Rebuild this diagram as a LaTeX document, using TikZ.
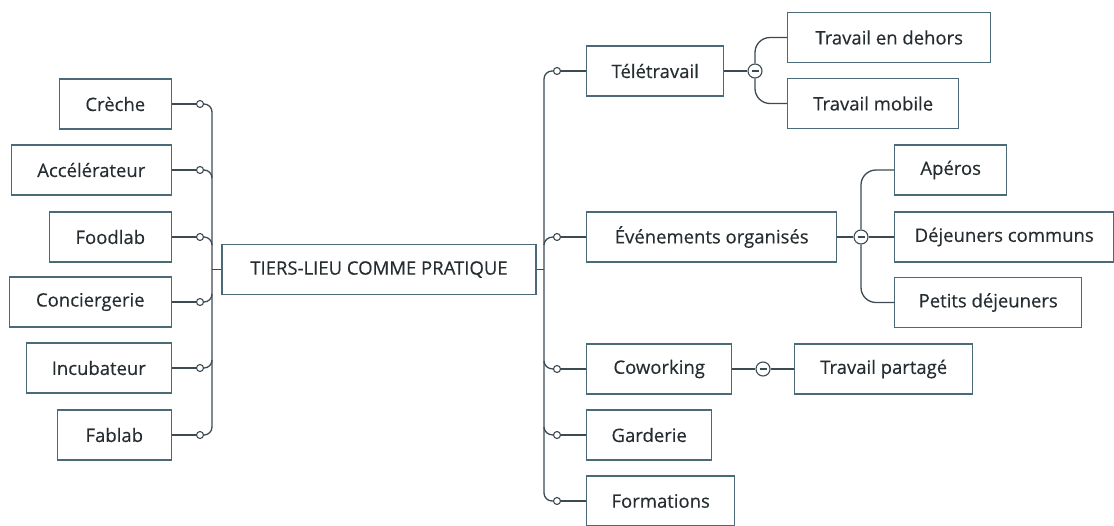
\documentclass[tikz,border=0pt]{standalone}
\usepackage{fontspec}
\setmainfont{Open Sans}[FakeBold=0.3]
\definecolor{boxc}{HTML}{4A6A78}
\definecolor{linec}{HTML}{3C4A52}
\definecolor{txtc}{HTML}{262D31}
\tikzset{
  topic/.style={draw=boxc, line width=1.4pt, fill=white, minimum height=50pt,
    inner sep=0pt, text=txtc, font=\fontsize{18.5}{21}\selectfont},
  knob/.style={circle, draw=linec, line width=1.1pt, fill=white,
    minimum size=7pt, inner sep=0pt},
  minus/.style={circle, draw=linec, line width=1.1pt, fill=white,
    minimum size=14pt, inner sep=0pt,
    path picture={\draw[linec, line width=1.1pt]
      ([xshift=3.5pt]path picture bounding box.west) --
      ([xshift=-3.5pt]path picture bounding box.east);}},
  link/.style={draw=linec, line width=1.3pt},
}
\begin{document}
\begin{tikzpicture}[x=1pt, y=-1pt]
   \useasboundingbox (0,0) rectangle (1114,525);
   % centre
   \node[topic, minimum width=314pt] (centre) at (379,269.5) {TIERS-LIEU COMME PRATIQUE};
   \coordinate (lbus) at (212,269.5);
   \coordinate (rbus) at (544,269.5);
   % left side
   \node[topic, minimum width=112pt, anchor=east] (creche) at (172,104) {Crèche};
   \node[topic, minimum width=160pt, anchor=east] (accel) at (172,170) {Accélérateur};
   \node[topic, minimum width=122pt, anchor=east] (food) at (172,237) {Foodlab};
   \node[topic, minimum width=162pt, anchor=east] (concierge) at (172,302) {Conciergerie};
   \node[topic, minimum width=145pt, anchor=east] (incub) at (172,368) {Incubateur};
   \node[topic, minimum width=114pt, anchor=east] (fab) at (172,435) {Fablab};
   \node[knob] (l1) at (200,104) {};
   \node[knob] (l2) at (200,170) {};
   \node[knob] (l3) at (200,237) {};
   \node[knob] (l4) at (200,302) {};
   \node[knob] (l5) at (200,368) {};
   \node[knob] (l6) at (200,435) {};
   \draw[link] (creche) -- (l1);
   \draw[link] (accel) -- (l2);
   \draw[link] (food) -- (l3);
   \draw[link] (concierge) -- (l4);
   \draw[link] (incub) -- (l5);
   \draw[link] (fab) -- (l6);
   \draw[link, rounded corners=8pt] (l1.east) -| (lbus |- l6.east) -- (l6.east);
   \draw[link] (l2.east) to[out=0, in=90] ([yshift=-8pt]lbus |- l2.east);
   \draw[link] (l3.east) to[out=0, in=90] ([yshift=-8pt]lbus |- l3.east);
   \draw[link] (l4.east) to[out=0, in=-90] ([yshift=8pt]lbus |- l4.east);
   \draw[link] (l5.east) to[out=0, in=-90] ([yshift=8pt]lbus |- l5.east);
   \draw[link] (centre) -- (lbus);
   % right side
   \node[topic, minimum width=137pt, anchor=west] (tele) at (586,71) {Télétravail};
   \node[topic, minimum width=250pt, anchor=west] (event) at (586,237) {Événements organisés};
   \node[topic, minimum width=145pt, anchor=west] (cowork) at (586,369) {Coworking};
   \node[topic, minimum width=125pt, anchor=west] (garde) at (586,435) {Garderie};
   \node[topic, minimum width=148pt, anchor=west] (forma) at (586,501) {Formations};
   \node[knob] (r1) at (557,71) {};
   \node[knob] (r2) at (557,237) {};
   \node[knob] (r3) at (557,369) {};
   \node[knob] (r4) at (557,435) {};
   \node[knob] (r5) at (557,501) {};
   \draw[link] (r1) -- (tele);
   \draw[link] (r2) -- (event);
   \draw[link] (r3) -- (cowork);
   \draw[link] (r4) -- (garde);
   \draw[link] (r5) -- (forma);
   \draw[link, rounded corners=8pt] (r1.west) -| (rbus |- r5.west) -- (r5.west);
   \draw[link] (r2.west) to[out=180, in=90] ([yshift=-8pt]rbus |- r2.west);
   \draw[link] (r3.west) to[out=180, in=-90] ([yshift=8pt]rbus |- r3.west);
   \draw[link] (r4.west) to[out=180, in=-90] ([yshift=8pt]rbus |- r4.west);
   \draw[link] (centre) -- (rbus);
   % Télétravail
   \node[minus] (m1) at (755,71) {};
   \node[topic, minimum width=203pt, anchor=west] (dehors) at (787,37.5) {Travail en dehors};
   \node[topic, minimum width=171pt, anchor=west] (mobile) at (787,103.5) {Travail mobile};
   \draw[link] (tele) -- (m1);
   \draw[link, rounded corners=15pt] (m1.north) |- (dehors.west);
   \draw[link, rounded corners=15pt] (m1.south) |- (mobile.west);
   % Événements
   \node[minus] (m2) at (861,237) {};
   \node[topic, minimum width=112pt, anchor=west] (aperos) at (894,170) {Apéros};
   \node[topic, minimum width=219pt, anchor=west] (dejc) at (894,237) {Déjeuners communs};
   \node[topic, minimum width=187pt, anchor=west] (petits) at (894,302.5) {Petits déjeuners};
   \draw[link] (event) -- (m2);
   \draw[link, rounded corners=15pt] (m2.north) |- (aperos.west);
   \draw[link] (m2) -- (dejc);
   \draw[link, rounded corners=15pt] (m2.south) |- (petits.west);
   % Coworking
   \node[minus] (m3) at (763,369) {};
   \node[topic, minimum width=178pt, anchor=west] (partage) at (794,369) {Travail partagé};
   \draw[link] (cowork) -- (m3);
   \draw[link] (m3) -- (partage);
\end{tikzpicture}
\end{document}
